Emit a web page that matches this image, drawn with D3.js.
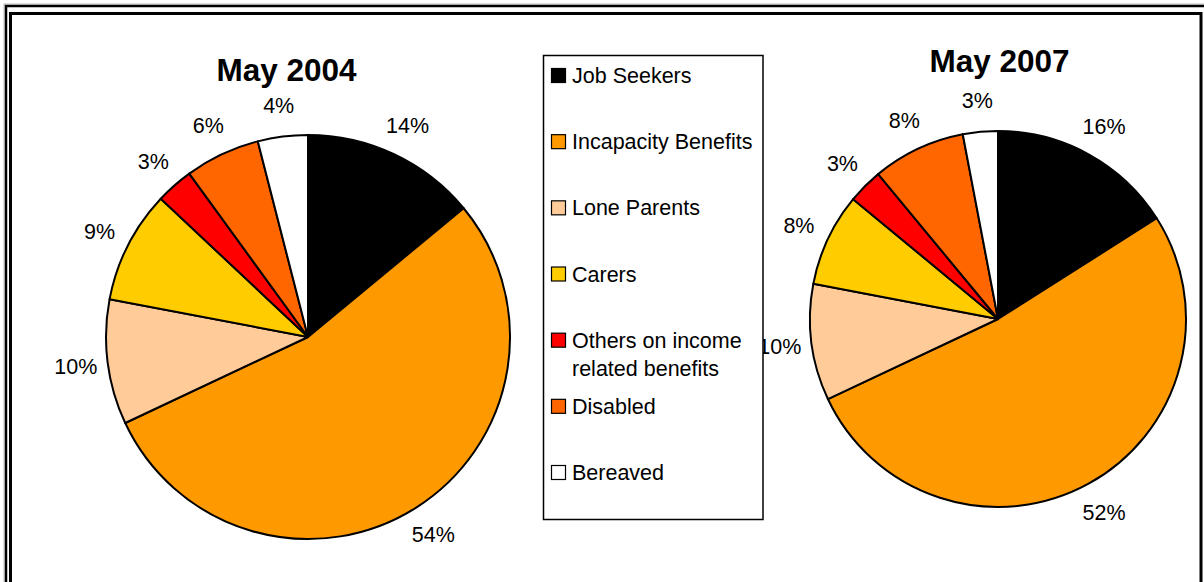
<!DOCTYPE html>
<html>
<head>
<meta charset="utf-8">
<script src="https://cdn.jsdelivr.net/npm/d3@7"></script>
<style>
  html, body { margin: 0; padding: 0; background: #fff; }
  svg { display: block; }
  text { font-family: "Liberation Sans", Arial, sans-serif; fill: #000; }
</style>
</head>
<body>
<svg id="chart" width="1204" height="582"></svg>
<script>
// Benefit claimant groups, shared by both pies and the legend
const categories = [
  "Job Seekers",
  "Incapacity Benefits",
  "Lone Parents",
  "Carers",
  "Others on income related benefits",
  "Disabled",
  "Bereaved"
];
const legendLines = [
  ["Job Seekers"],
  ["Incapacity Benefits"],
  ["Lone Parents"],
  ["Carers"],
  ["Others on income", "related benefits"],
  ["Disabled"],
  ["Bereaved"]
];
const colours = ["#000000", "#FF9900", "#FFCC99", "#FFCC00", "#FF0000", "#FF6600", "#FFFFFF"];

// Share of claimants (%) in each group
const titles = ["May 2004", "May 2007"];
const values2004 = [14, 54, 10, 9, 3, 6, 4];
const values2007 = [16, 52, 10, 8, 3, 8, 3];

const svg = d3.select("#chart");
const W = 1204, H = 582;

// Double frame
svg.append("rect").attr("x", 4).attr("y", 4).attr("width", W + 20).attr("height", H + 20)
  .attr("fill", "none").attr("stroke", "#bbb").attr("stroke-width", 1);
svg.append("rect").attr("x", 6).attr("y", 6).attr("width", W + 20).attr("height", H + 20)
  .attr("fill", "none").attr("stroke", "#000").attr("stroke-width", 2.5);
svg.append("rect").attr("x", 10.5).attr("y", 13.5).attr("width", 1190.5).attr("height", H + 20)
  .attr("fill", "none").attr("stroke", "#000").attr("stroke-width", 3);

const colour = d3.scaleOrdinal().domain(categories).range(colours);

const pie = d3.pie().sort(null).value(d => d.value)
  .startAngle(0).endAngle(2 * Math.PI);

function drawPie(values, title, cx, cy, r, titleX, titleY) {
  const data = categories.map((c, i) => ({ category: c, value: values[i] }));
  const g = svg.append("g").attr("transform", `translate(${cx},${cy})`);
  const arc = d3.arc().innerRadius(0).outerRadius(r);
  const labelArc = d3.arc().innerRadius(r + 32).outerRadius(r + 32);
  const slices = pie(data);

  g.selectAll("path.slice").data(slices).enter().append("path")
    .attr("class", "slice")
    .attr("d", arc)
    .attr("fill", d => colour(d.data.category))
    .attr("stroke", "#000")
    .attr("stroke-width", 2)
    .attr("stroke-linejoin", "round");

  g.selectAll("text.pct").data(slices).enter().append("text")
    .attr("class", "pct")
    .attr("transform", d => `translate(${labelArc.centroid(d)})`)
    .attr("text-anchor", "middle")
    .attr("dy", "0.36em")
    .style("font-size", "21.5px")
    .text(d => d3.format("d")(d.data.value) + "%");

  svg.append("text")
    .attr("x", titleX).attr("y", titleY)
    .attr("text-anchor", "middle")
    .style("font-size", "31.5px")
    .style("font-weight", "bold")
    .text(title);
}

drawPie(values2004, titles[0], 308, 337, 202, 286.5, 81);
drawPie(values2007, titles[1], 998, 319, 188, 999.5, 72);

// Legend
const legend = svg.append("g");
legend.append("rect")
  .attr("x", 543.5).attr("y", 55.5).attr("width", 219.5).attr("height", 464)
  .attr("fill", "#fff").attr("stroke", "#000").attr("stroke-width", 1.5);

const rowY = d3.scalePoint().domain(categories).range([83, 480]);

const items = legend.selectAll("g.item").data(categories).enter().append("g")
  .attr("class", "item")
  .attr("transform", d => `translate(0,${rowY(d)})`);

items.append("rect")
  .attr("x", 551.5).attr("y", -14.5).attr("width", 14).attr("height", 14)
  .attr("fill", d => colour(d))
  .attr("stroke", "#000").attr("stroke-width", 1.2);

items.append("text")
  .attr("x", 572).attr("y", 0)
  .style("font-size", "21.5px")
  .selectAll("tspan")
  .data((d, i) => legendLines[i])
  .enter().append("tspan")
  .attr("x", 572)
  .attr("dy", (d, j) => j === 0 ? 0 : 28)
  .text(d => d);
</script>
</body>
</html>
